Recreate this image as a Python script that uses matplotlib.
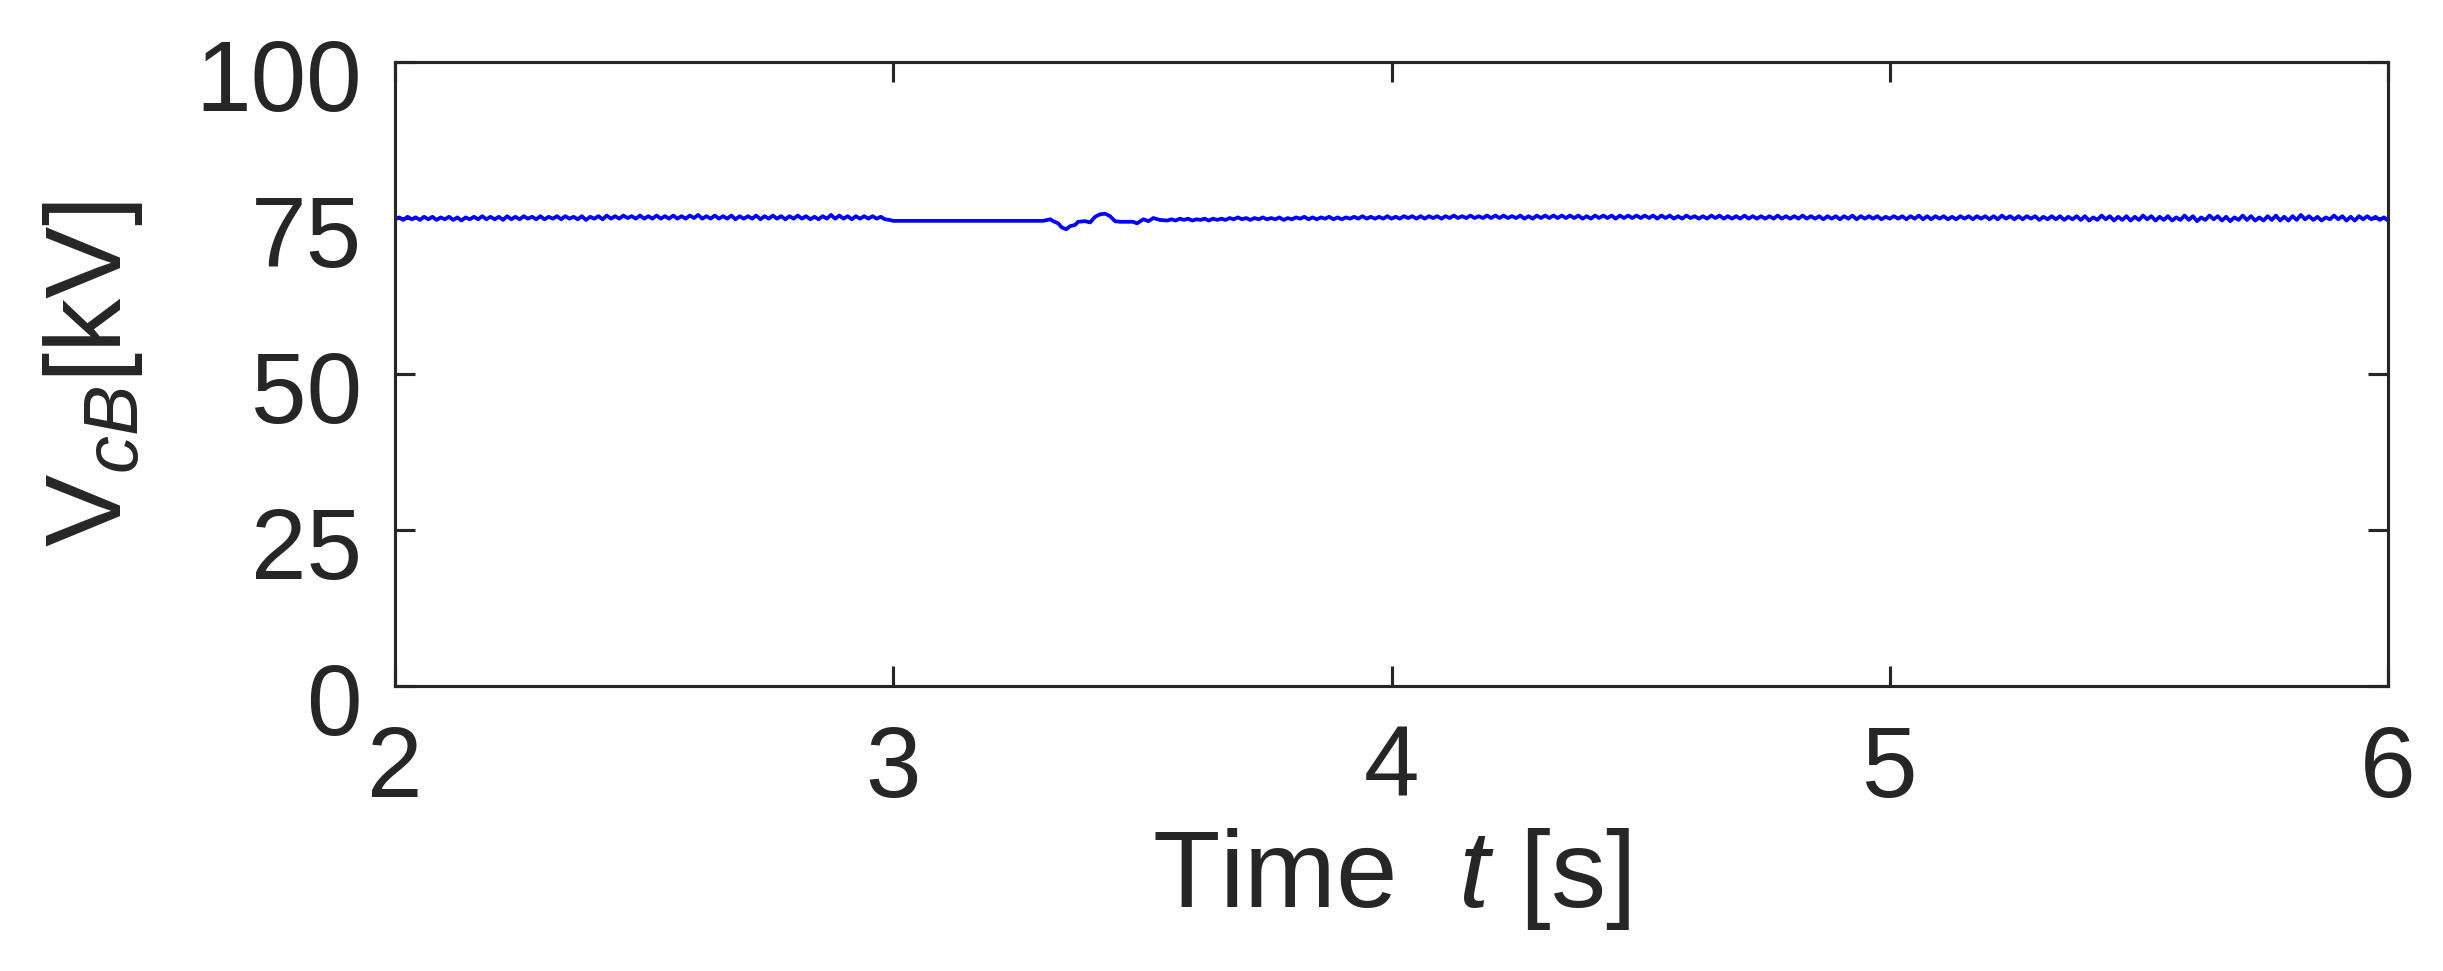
import numpy as np
import matplotlib
matplotlib.use("Agg")
import matplotlib.pyplot as plt
import matplotlib.transforms as mtransforms

plt.rcParams['font.family'] = ['Liberation Sans', 'DejaVu Sans']
plt.rcParams['mathtext.fontset'] = 'custom'
plt.rcParams['mathtext.rm'] = 'Liberation Sans'
plt.rcParams['mathtext.it'] = 'Liberation Sans:italic'

# capacitor voltage, kV, sampled every 1/120 s (2.0 - 3.0 s)
t_a0 = 2.0
v_a = [74.8, 75.1, 74.7, 75.2, 74.8, 75.1, 74.7, 75.2, 74.8, 75.2, 74.7, 75.1,
       74.8, 75.2, 74.7, 75.1, 74.6, 75.1, 74.8, 75.2, 74.8, 75.3, 74.8, 75.2,
       74.8, 75.2, 74.7, 75.3, 74.8, 75.2, 74.8, 75.3, 74.9, 75.2, 74.8, 75.3,
       74.8, 75.2, 74.9, 75.3, 74.8, 75.3, 74.9, 75.2, 74.8, 75.3, 74.7, 75.2,
       74.9, 75.3, 74.8, 75.4, 74.9, 75.3, 74.9, 75.4, 75.0, 75.3, 74.9, 75.4,
       74.9, 75.3, 74.9, 75.4, 74.9, 75.3, 74.9, 75.4, 74.9, 75.3, 74.9, 75.4,
       75.0, 75.5, 74.9, 75.3, 74.9, 75.4, 74.9, 75.3, 74.9, 75.4, 74.8, 75.3,
       74.9, 75.3, 74.9, 75.4, 74.8, 75.3, 74.9, 75.4, 74.9, 75.3, 74.8, 75.3,
       74.9, 75.4, 74.9, 75.3, 74.8, 75.2, 74.8, 75.3, 74.9, 75.5, 74.9, 75.4,
       74.9, 75.3, 74.8, 75.3, 74.9, 75.3, 74.9, 75.3, 74.9, 75.2, 74.8, 74.7]

# blocked interval and fault transient
t_b = [3.0, 3.301, 3.315, 3.321, 3.331, 3.338, 3.347, 3.355, 3.365, 3.371,
       3.385, 3.395, 3.405, 3.415, 3.425, 3.435, 3.445, 3.455, 3.481, 3.489,
       3.502, 3.512, 3.522, 3.535]
v_b = [74.55, 74.55, 74.8, 74.5, 74.15, 73.5, 73.2, 73.7, 73.9, 74.4,
       74.5, 74.3, 75.2, 75.6, 75.7, 75.3, 74.5, 74.4, 74.4, 74.15,
       74.8, 74.5, 75.0, 74.7]

# after recovery, every 1/120 s (3.55 - 6.0 s)
t_c0 = 3.55
v_c = [74.6, 74.8, 74.6, 74.9, 74.7, 74.9, 74.6, 74.8, 74.7, 74.9, 74.6, 74.9,
       74.7, 74.9, 74.7, 75.0, 74.8, 75.1, 74.8, 75.0, 74.7, 75.0, 74.8, 75.1,
       74.8, 75.0, 74.8, 75.1, 74.7, 75.0, 74.8, 75.1, 74.9, 75.2, 74.8, 75.1,
       74.8, 75.1, 74.9, 75.2, 74.8, 75.1, 74.8, 75.1, 74.9, 75.2, 74.9, 75.3,
       74.9, 75.2, 74.9, 75.2, 74.9, 75.3, 74.9, 75.2, 74.9, 75.3, 75.0, 75.3,
       74.9, 75.3, 74.9, 75.3, 75.0, 75.3, 74.9, 75.3, 75.0, 75.4, 75.0, 75.3,
       75.0, 75.4, 75.0, 75.3, 75.0, 75.4, 75.0, 75.4, 75.0, 75.4, 75.0, 75.3,
       75.0, 75.4, 74.9, 75.3, 74.9, 75.4, 75.0, 75.4, 75.0, 75.4, 75.0, 75.4,
       75.0, 75.4, 75.0, 75.4, 74.9, 75.3, 74.9, 75.4, 75.0, 75.4, 75.0, 75.4,
       74.9, 75.4, 75.0, 75.4, 75.0, 75.4, 75.0, 75.4, 75.0, 75.4, 74.9, 75.4,
       75.0, 75.4, 74.9, 75.3, 74.9, 75.4, 75.0, 75.3, 74.9, 75.3, 74.9, 75.4,
       75.0, 75.4, 74.9, 75.3, 74.9, 75.3, 74.9, 75.4, 74.9, 75.3, 74.9, 75.3,
       74.9, 75.3, 74.9, 75.4, 74.9, 75.3, 74.9, 75.3, 74.9, 75.4, 74.9, 75.3,
       74.9, 75.3, 74.8, 75.3, 74.9, 75.3, 74.8, 75.3, 74.9, 75.4, 74.8, 75.3,
       74.9, 75.3, 74.9, 75.3, 74.8, 75.2, 74.9, 75.3, 74.9, 75.3, 74.8, 75.3,
       74.9, 75.4, 74.8, 75.3, 74.8, 75.3, 74.9, 75.3, 74.8, 75.2, 74.8, 75.3,
       74.9, 75.3, 74.8, 75.3, 74.9, 75.3, 74.8, 75.3, 74.8, 75.4, 74.9, 75.3,
       74.8, 75.3, 74.8, 75.3, 74.9, 75.3, 74.7, 75.2, 74.8, 75.3, 74.8, 75.3,
       74.7, 75.2, 74.8, 75.3, 74.7, 75.3, 74.6, 75.1, 74.7, 75.4, 74.8, 75.3,
       74.6, 75.2, 74.7, 75.3, 74.6, 75.2, 74.7, 75.4, 74.8, 75.3, 74.6, 75.2,
       74.7, 75.3, 74.6, 75.1, 74.7, 75.4, 74.7, 75.3, 74.5, 75.1, 74.7, 75.4,
       74.8, 75.3, 74.6, 75.2, 74.5, 75.1, 74.7, 75.4, 74.7, 75.3, 74.6, 75.1,
       74.6, 75.3, 74.7, 75.4, 74.6, 75.2, 74.6, 75.3, 74.7, 75.5, 74.8, 75.3,
       74.7, 75.2, 74.6, 75.1, 74.8, 75.4, 74.8, 75.3, 74.6, 75.2, 74.6, 75.3,
       74.8, 75.3, 74.8, 75.2, 74.7, 75.1, 74.6]

xticks = [2, 3, 4, 5, 6]
yticks = [0, 25, 50, 75, 100]

t_a = t_a0 + np.arange(len(v_a)) / 120.0
t_c = t_c0 + np.arange(len(v_c)) / 120.0
t = np.concatenate([t_a, t_b, t_c])
v = np.concatenate([v_a, v_b, v_c])

fig = plt.figure(figsize=(2443 / 300, 971 / 300), dpi=300)
ax = fig.add_axes([0.1617, 0.2935, 0.9775 - 0.1617, 0.9361 - 0.2935])
ax.plot(t, v, color=(0, 0, 1), lw=0.9)

ax.set_xlim(2, 6)
ax.set_ylim(0, 100)
ax.set_xticks(xticks)
ax.set_yticks(yticks)
ink = '#262626'
for s in ax.spines.values():
    s.set_linewidth(0.75)
    s.set_color(ink)
ax.tick_params(direction='in', length=4.8, width=0.75, color=ink,
               labelsize=24, labelcolor=ink, top=True, right=True)
ax.tick_params(axis='x', pad=9)
ax.tick_params(axis='y', pad=8)
# matlab-ish: y tick labels sit a bit low
off = mtransforms.ScaledTranslation(0, -3 / 72, fig.dpi_scale_trans)
for lab in ax.get_yticklabels():
    lab.set_transform(lab.get_transform() + off)

ax.set_xlabel(r'Time  $\mathit{t}$ [s]', fontsize=26.5, color=ink, labelpad=2)
ax.set_ylabel(r'V$_{\mathit{cB}}$[kV]', fontsize=26, color=ink, labelpad=12)

fig.savefig('out.png', dpi=300)
